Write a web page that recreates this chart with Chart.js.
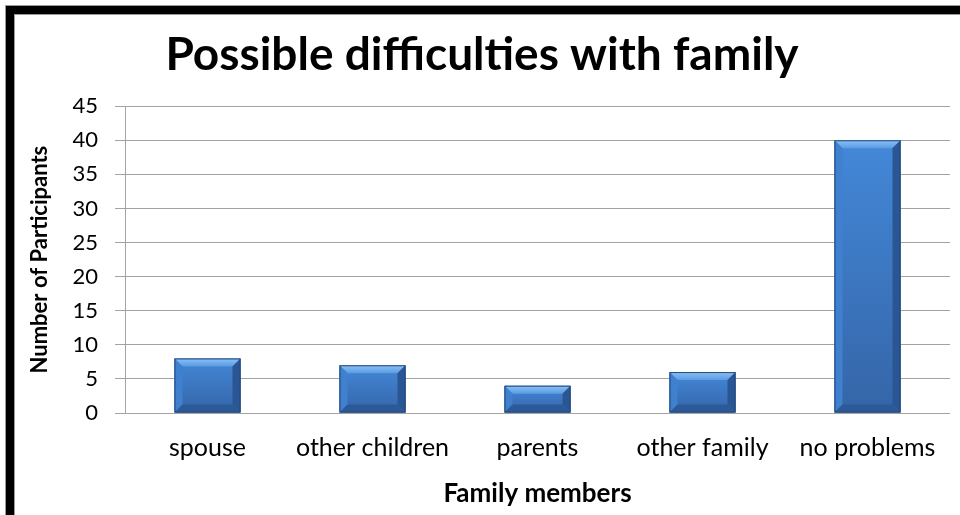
<!DOCTYPE html>
<html>
<head>
<meta charset="utf-8">
<script src="https://cdn.jsdelivr.net/npm/chart.js@4/dist/chart.umd.min.js"></script>
<style>
  html, body { margin: 0; padding: 0; background: #ffffff; }
  #wrap { width: 960px; height: 515px; position: relative; }
</style>
</head>
<body>
<div id="wrap"><canvas id="c" width="960" height="515"></canvas></div>
<script>
const categories = ['spouse', 'other children', 'parents', 'other family', 'no problems'];
const participants = [8, 7, 4, 6, 40];
const yTicks = [0, 5, 10, 15, 20, 25, 30, 35, 40, 45];
const chartTitle = 'Possible difficulties with family';
const xTitle = 'Family members';
const yTitle = 'Number of Participants';

const FONT = 'Lato, "Open Sans", sans-serif';

const framePlugin = {
  id: 'frame',
  beforeDraw(chart) {
    const ctx = chart.ctx;
    ctx.save();
    ctx.fillStyle = '#ffffff';
    ctx.fillRect(0, 0, chart.width, chart.height);
    ctx.restore();
  },
  afterDraw(chart) {
    const ctx = chart.ctx;
    ctx.save();
    ctx.fillStyle = '#9a9a9a';
    ctx.fillRect(5, 5, chart.width - 5, 10);
    ctx.fillRect(5, 5, 10, chart.height - 5);
    ctx.fillStyle = '#000000';
    ctx.fillRect(6, 6, chart.width - 6, 8);
    ctx.fillRect(6, 6, 8, chart.height - 6);
    ctx.restore();
  }
};

const bevelPlugin = {
  id: 'bevel',
  beforeDatasetsDraw(chart) {
    const ctx = chart.ctx;
    ctx.save();
    ctx.shadowColor = 'rgba(0,0,0,0.35)';
    ctx.shadowBlur = 6;
    ctx.shadowOffsetX = 2;
    ctx.shadowOffsetY = 2;
  },
  afterDatasetsDraw(chart) {
    const ctx = chart.ctx;
    ctx.restore();
    const meta = chart.getDatasetMeta(0);
    meta.data.forEach(el => {
      const l = el.x - el.width / 2, r = el.x + el.width / 2;
      const t = el.y, b = el.base;
      const bv = Math.min(8, (b - t) / 2);
      ctx.save();
      const fg = ctx.createLinearGradient(0, t, 0, b);
      fg.addColorStop(0, '#4388d8');
      fg.addColorStop(1, '#3565a8');
      ctx.fillStyle = fg;
      ctx.fillRect(l, t, r - l, b - t);
      const tg = ctx.createLinearGradient(0, t, 0, t + bv);
      tg.addColorStop(0, '#8cc2f5');
      tg.addColorStop(1, '#5a9be3');
      ctx.fillStyle = tg;
      ctx.beginPath();
      ctx.moveTo(l, t); ctx.lineTo(r, t); ctx.lineTo(r - bv, t + bv); ctx.lineTo(l + bv, t + bv); ctx.closePath();
      ctx.fill();
      ctx.fillStyle = '#3f80cf';
      ctx.beginPath();
      ctx.moveTo(l, t); ctx.lineTo(l + bv, t + bv); ctx.lineTo(l + bv, b - bv); ctx.lineTo(l, b); ctx.closePath();
      ctx.fill();
      ctx.fillStyle = '#2a5694';
      ctx.beginPath();
      ctx.moveTo(r, t); ctx.lineTo(r, b); ctx.lineTo(r - bv, b - bv); ctx.lineTo(r - bv, t + bv); ctx.closePath();
      ctx.fill();
      ctx.fillStyle = '#2c5a98';
      ctx.beginPath();
      ctx.moveTo(l, b); ctx.lineTo(r, b); ctx.lineTo(r - bv, b - bv); ctx.lineTo(l + bv, b - bv); ctx.closePath();
      ctx.fill();
      ctx.strokeStyle = '#24487a';
      ctx.lineWidth = 1;
      ctx.strokeRect(l + 0.5, t + 0.5, r - l - 1, b - t - 1);
      ctx.restore();
    });
  }
};

new Chart(document.getElementById('c'), {
  type: 'bar',
  data: {
    labels: categories,
    datasets: [{
      label: yTitle,
      data: participants,
      backgroundColor: '#3b76c0',
      borderColor: '#24487a',
      borderWidth: 1,
      barPercentage: 0.4,
      categoryPercentage: 1.0
    }]
  },
  options: {
    responsive: false,
    animation: false,
    devicePixelRatio: 1,
    layout: { padding: { left: 14, right: 10, top: 0, bottom: 0 } },
    plugins: {
      legend: { display: false },
      tooltip: { enabled: false },
      title: {
        display: true,
        text: chartTitle,
        color: '#000000',
        font: { family: FONT, size: 46, weight: 'bold', lineHeight: 1.2 },
        padding: { top: 28, bottom: 23 }
      }
    },
    scales: {
      x: {
        grid: { display: false, drawTicks: false },
        border: { display: false },
        ticks: {
          color: '#000000',
          padding: 20,
          maxRotation: 0,
          autoSkip: false,
          font: { family: FONT, size: 25 }
        },
        title: {
          display: true,
          text: xTitle,
          color: '#000000',
          font: { family: FONT, size: 26, weight: 'bold', lineHeight: 1.2 },
          padding: { top: 0, bottom: 6 }
        },
        afterFit(scale) { scale.height = 102; }
      },
      y: {
        min: 0,
        max: 45,
        afterBuildTicks(scale) { scale.ticks = yTicks.map(v => ({ value: v })); },
        grid: { color: '#a3a3a3', lineWidth: 1, drawTicks: true, tickLength: 10 },
        border: { display: true, color: '#a3a3a3', width: 1 },
        ticks: {
          color: '#000000',
          padding: 17,
          font: { family: FONT, size: 22 }
        },
        title: {
          display: true,
          text: yTitle,
          color: '#000000',
          font: { family: FONT, size: 22, weight: 'bold', lineHeight: 1.2 },
          padding: { top: 13, bottom: 0 }
        },
        afterFit(scale) { scale.width = 111; }
      }
    }
  },
  plugins: [framePlugin, bevelPlugin]
});
</script>
</body>
</html>
